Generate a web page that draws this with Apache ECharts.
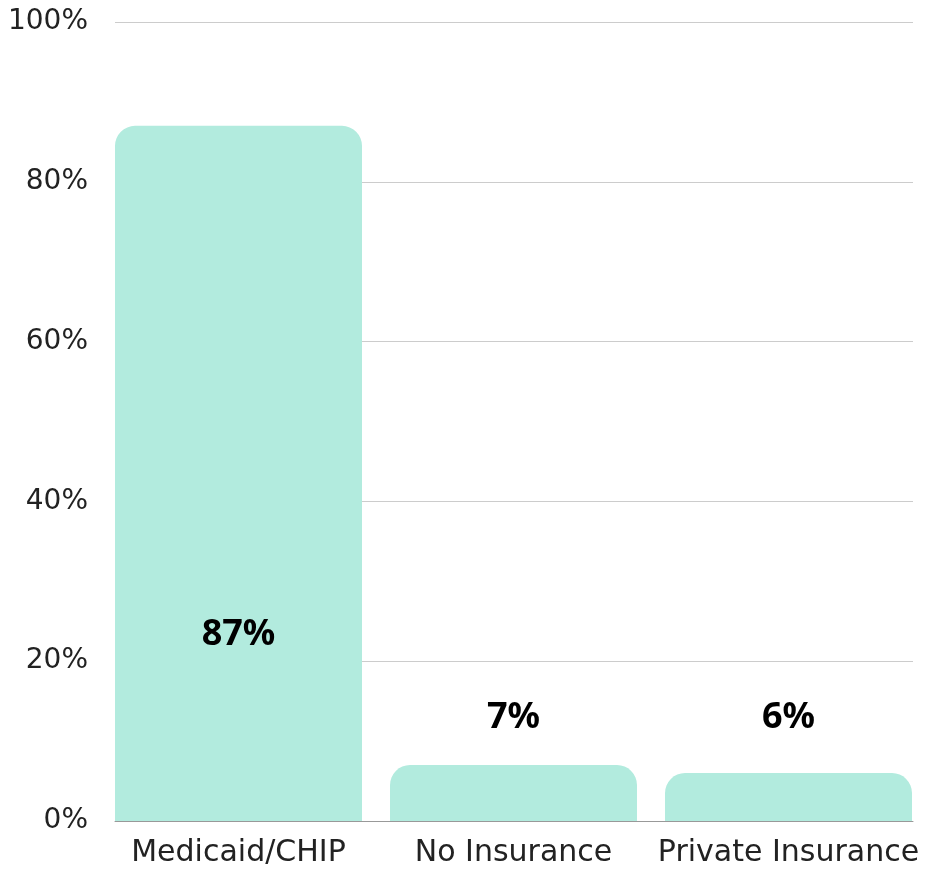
<!DOCTYPE html>
<html><head><meta charset="utf-8">
<script src="https://cdn.jsdelivr.net/npm/echarts@6/dist/echarts.min.js"></script>
<style>html,body{margin:0;padding:0;background:#fff}#c{width:927px;height:873px}</style>
</head><body><div id="c"></div>
<script>
const categories = ['Medicaid/CHIP', 'No Insurance', 'Private Insurance'];
const values = [87, 7, 6];
const yTicks = [0, 20, 40, 60, 80, 100];

const labelDistances = [168, 85, 85];
const FONT = 'DejaVu Sans';
const chart = echarts.init(document.getElementById('c'));
chart.setOption({
  animation: false,
  grid: [
    { left: 101, right: 1, top: 22, bottom: 52 },
    { left: 115, right: 14, top: 22, bottom: 52 }
  ],
  xAxis: [{
    gridIndex: 0, type: 'category', data: categories,
    axisTick: { show: false },
    axisLine: { show: false },
    axisLabel: { color: '#222', fontSize: 30, fontFamily: FONT, fontWeight: 'normal', margin: 17, interval: 0 }
  }, {
    gridIndex: 1, type: 'category', data: categories,
    axisTick: { show: false }, axisLabel: { show: false },
    axisLine: { lineStyle: { color: '#999', width: 1 } }
  }],
  yAxis: [{
    gridIndex: 0, type: 'value', min: yTicks[0], max: yTicks[yTicks.length - 1], interval: 20,
    show: false
  }, {
    gridIndex: 1, type: 'value', min: yTicks[0], max: yTicks[yTicks.length - 1], interval: 20,
    axisLine: { show: false }, axisTick: { show: false },
    splitLine: { lineStyle: { color: '#cccccc', width: 1 } },
    axisLabel: { formatter: '{value}%', color: '#222', fontSize: 28, fontFamily: FONT, fontWeight: 'normal', margin: 27, padding: [4, 0, 0, 0] }
  }],
  series: [{
    type: 'bar', xAxisIndex: 0, yAxisIndex: 0, barWidth: 247, z: 3,
    itemStyle: { color: '#b2ebde', borderRadius: [20, 20, 0, 0] },
    data: values.map((v, i) => ({
      value: v,
      label: { show: true, position: 'insideBottom', distance: labelDistances[i],
        formatter: '{c}%', color: '#000', fontSize: 36, fontWeight: 'bold', fontFamily: 'Noto Sans' }
    }))
  }]
});
</script></body></html>
